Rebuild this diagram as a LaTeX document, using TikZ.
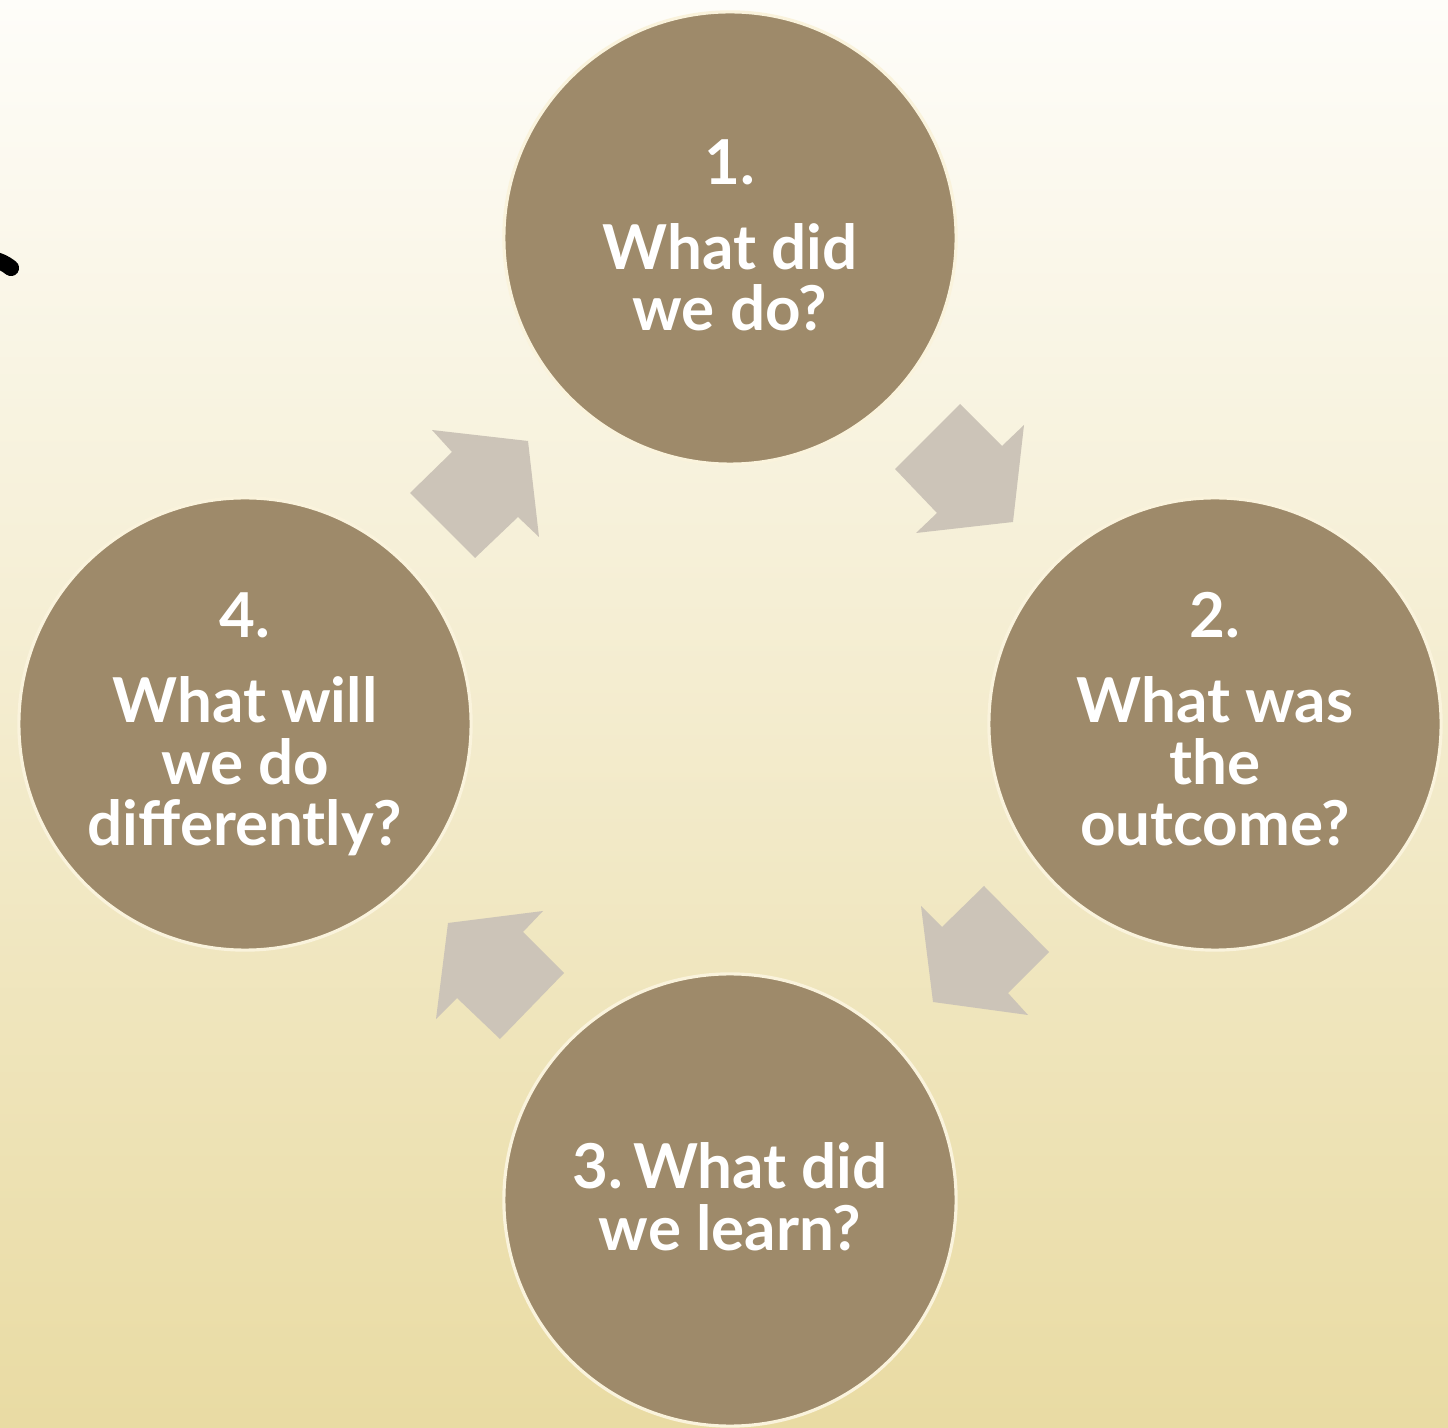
\documentclass[tikz,border=0pt]{standalone}
\usepackage{fontspec}
\setmainfont{Lato}
\usepackage{tikz}
\definecolor{bgtop}{HTML}{FEFDF9}
\definecolor{bgmid}{HTML}{F5EDD6}
\definecolor{bgbot}{HTML}{E9DBA3}
\definecolor{disc}{HTML}{9E8A6A}
\definecolor{rim}{HTML}{FAF3DC}
\definecolor{blockarrow}{HTML}{CCC4B8}
\tikzset{
  stage/.style={circle, fill=disc, draw=rim, line width=0.9pt, minimum size=4.52cm, inner sep=0pt},
  caption/.style={anchor=base, align=center, text=white, font=\fontsize{17.6}{17.6}\selectfont\bfseries},
  flow/.style={fill=blockarrow, draw=none}
}

\begin{document}
\begin{tikzpicture}[x=0.01cm, y=-0.01cm]
        	\useasboundingbox (0,0) rectangle (1448,1428);
        	\shade[top color=bgtop, middle color=bgmid, bottom color=bgbot] (0,0) rectangle (1448,1428);
        	\draw[black, line width=4.6pt, line cap=round] (-8,259) to[bend left=12] (11,268);
        	\node[stage] (C1) at (730,238) {};
        	\node[stage] (C2) at (1215,724) {};
        	\node[stage] (C3) at (730,1200) {};
        	\node[stage] (C4) at (245,724) {};
        	\node[caption] (T1) at (730,331) {1.\\[6.5pt] What did\\ we do?};
        	\node[caption] (T2) at (1215,846) {2.\\[6.5pt] What was\\ the\\ outcome?};
        	\node[caption] (T3) at (730,1250) {3.\,What did\\ we learn?};
        	\node[caption] (T4) at (245,846) {4.\\[6.5pt] What will\\ we do\\ differently?};
        	\fill[flow] (960,404) -- (1002,446) -- (1024,425) -- (1013,522) -- (916,533) -- (937,513) -- (895,469) -- cycle;
        	\fill[flow] (984,886) -- (1049,952) -- (1008,993) -- (1028,1015) -- (933,1002) -- (921,906) -- (942,927) -- cycle;
        	\fill[flow] (564,973) -- (500,1039) -- (457,998) -- (436,1019) -- (448,923) -- (543,911) -- (523,932) -- cycle;
        	\fill[flow] (410,493) -- (452,452) -- (432,430) -- (528,441) -- (539,537) -- (518,517) -- (475,558) -- cycle;
\end{tikzpicture}
\end{document}
